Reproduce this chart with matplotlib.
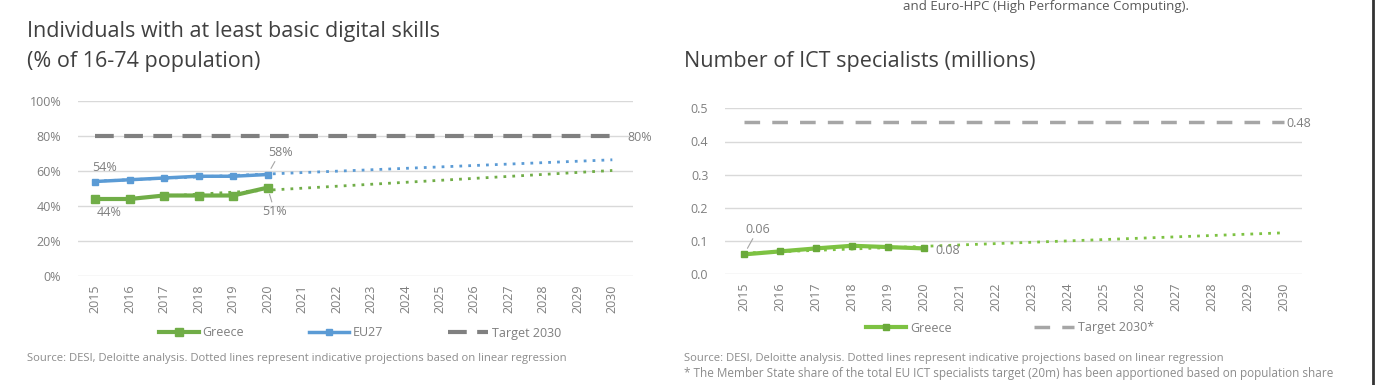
import matplotlib.pyplot as plt
from matplotlib.lines import Line2D

plt.rcParams['font.family'] = ['Open Sans', 'DejaVu Sans']

# data
years = [2015, 2016, 2017, 2018, 2019, 2020]
all_years = list(range(2015, 2031))
greece_skills = [44, 44, 46, 46, 46, 50.5]
eu27_skills = [54, 55, 56, 57, 57, 58]
trend_years = [2015, 2030]
greece_skills_trend = [43.4, 60.3]
eu27_skills_trend = [54.2, 66.4]
target_skills = [80, 80]

greece_ict = [0.06, 0.069, 0.078, 0.086, 0.082, 0.078]
greece_ict_trend = [0.064, 0.125]
target_ict = [0.46, 0.46]

green = '#70AD47'
blue = '#5B9BD5'
lime = '#7DC242'
grey_txt = '#7f7f7f'
grid_c = '#d9d9d9'

fig = plt.figure(figsize=(13.75, 3.85), dpi=100)


def style_axis(ax, ylim, yticks, ylabels, xlim):
    ax.set_xlim(*xlim)
    ax.set_ylim(*ylim)
    ax.set_yticks(yticks)
    ax.set_yticklabels(ylabels)
    ax.set_xticks(all_years)
    ax.set_xticklabels([str(y) for y in all_years], rotation=90)
    for s in ax.spines.values():
        s.set_visible(False)
    ax.tick_params(length=0, labelsize=9, colors=grey_txt)
    ax.tick_params(axis='x', pad=6)
    ax.tick_params(axis='y', pad=12)
    ax.grid(axis='y', color=grid_c, lw=1)
    ax.set_axisbelow(True)


# ---- left chart: digital skills
ax1 = fig.add_axes([78 / 1375, 1 - 276 / 385, 555 / 1375, 175 / 385])
style_axis(ax1, (0, 100), [0, 20, 40, 60, 80, 100],
           ['0%', '20%', '40%', '60%', '80%', '100%'], (2014.5, 2030.6))
ax1.plot(trend_years, target_skills, color='#808080', lw=3, dashes=(4.5, 2.5),
         label='Target 2030', solid_capstyle='butt')
ax1.plot(trend_years, greece_skills_trend, color=green, lw=2, ls=(0, (1, 2.2)))
ax1.plot(trend_years, eu27_skills_trend, color=blue, lw=2, ls=(0, (1, 2.2)))
ax1.plot(years, greece_skills, color=green, lw=3, marker='s', ms=6, label='Greece')
ax1.plot(years, eu27_skills, color=blue, lw=2.5, marker='s', ms=5, label='EU27')

lbl = dict(color=grey_txt, fontsize=9, textcoords='offset points', ha='center', va='center')
lead = dict(arrowstyle='-', color='#a6a6a6', lw=0.8, shrinkA=0, shrinkB=5)
ax1.annotate('54%', (2015, eu27_skills[0]), xytext=(7, 10), **lbl)
ax1.annotate('44%', (2015, greece_skills[0]), xytext=(10, -10), **lbl)
ax1.annotate('58%', (2020, eu27_skills[-1]), xytext=(9, 16), arrowprops=lead, **lbl)
ax1.annotate('51%', (2020, greece_skills[-1]), xytext=(5, -17), arrowprops=lead, **lbl)
ax1.annotate('80%', (2030, target_skills[-1]), xytext=(11, -1),
             color=grey_txt, fontsize=9, textcoords='offset points', ha='left', va='center')

h1, l1 = ax1.get_legend_handles_labels()
order = [1, 2, 0]
ax1.legend([h1[i] for i in order], [l1[i] for i in order], loc='center',
           bbox_to_anchor=(360 / 1375, 1 - 333 / 385), bbox_transform=fig.transFigure,
           ncol=3, frameon=False, fontsize=9, labelcolor=grey_txt,
           handlelength=3.2, handletextpad=0.3, columnspacing=5.2)

fig.text(27 / 1375, 1 - 31 / 385, 'Individuals with at least basic digital skills',
         fontsize=15.5, color='#404040', va='center')
fig.text(27 / 1375, 1 - 61 / 385, '(% of 16-74 population)',
         fontsize=15.5, color='#404040', va='center')
fig.text(27 / 1375, 1 - 358 / 385,
         'Source: DESI, Deloitte analysis. Dotted lines represent indicative projections based on linear regression',
         fontsize=8.1, color='#8c8c8c', va='center')

# ---- right chart: ICT specialists
ax2 = fig.add_axes([725 / 1375, 1 - 274.3 / 385, 577 / 1375, 166 / 385])
style_axis(ax2, (0, 0.5), [0, 0.1, 0.2, 0.3, 0.4, 0.5],
           ['0.0', '0.1', '0.2', '0.3', '0.4', '0.5'], (2014.47, 2030.5))
ax2.plot(trend_years, target_ict, color='#a6a6a6', lw=2.5, dashes=(4.5, 3.5),
         label='Target 2030*', solid_capstyle='butt')
ax2.plot(trend_years, greece_ict_trend, color=lime, lw=2, ls=(0, (1, 2.2)))
ax2.plot(years, greece_ict, color=lime, lw=3, marker='s', ms=5,
         markerfacecolor='#6aaa3a', markeredgecolor='#6aaa3a', label='Greece')
ax2.annotate('0.06', (2015, greece_ict[0]), xytext=(10, 18), arrowprops=lead, **lbl)
ax2.annotate('0.08', (2020, greece_ict[-1]), xytext=(8, -1.5),
             color=grey_txt, fontsize=9, textcoords='offset points', ha='left', va='center')
ax2.annotate('0.48', (2030, target_ict[-1]), xytext=(2, -1.5),
             color=grey_txt, fontsize=9, textcoords='offset points', ha='left', va='center')

h2, l2 = ax2.get_legend_handles_labels()
ax2.legend([h2[1], h2[0]], [l2[1], l2[0]], loc='center',
           bbox_to_anchor=(1010 / 1375, 1 - 328 / 385), bbox_transform=fig.transFigure,
           ncol=2, frameon=False, fontsize=9, labelcolor=grey_txt,
           handlelength=3.2, handletextpad=0.3, columnspacing=6.6)

fig.text(684 / 1375, 1 - 61 / 385, 'Number of ICT specialists (millions)',
         fontsize=15.5, color='#404040', va='center')
fig.text(684 / 1375, 1 - 358 / 385,
         'Source: DESI, Deloitte analysis. Dotted lines represent indicative projections based on linear regression',
         fontsize=8.1, color='#8c8c8c', va='center')
fig.text(684 / 1375, 1 - 373 / 385,
         '* The Member State share of the total EU ICT specialists target (20m) has been apportioned based on population share',
         fontsize=8.5, color='#8c8c8c', va='center')

# page text cut off at the top edge in the source
fig.text(903 / 1375, 1.0, 'and Euro-HPC (High Performance Computing).',
         fontsize=9.5, color='#595959', va='top')
fig.add_artist(Line2D([1373 / 1375, 1373 / 1375], [0, 1], color='#333333', lw=2))

fig.savefig('out.png', dpi=100)
